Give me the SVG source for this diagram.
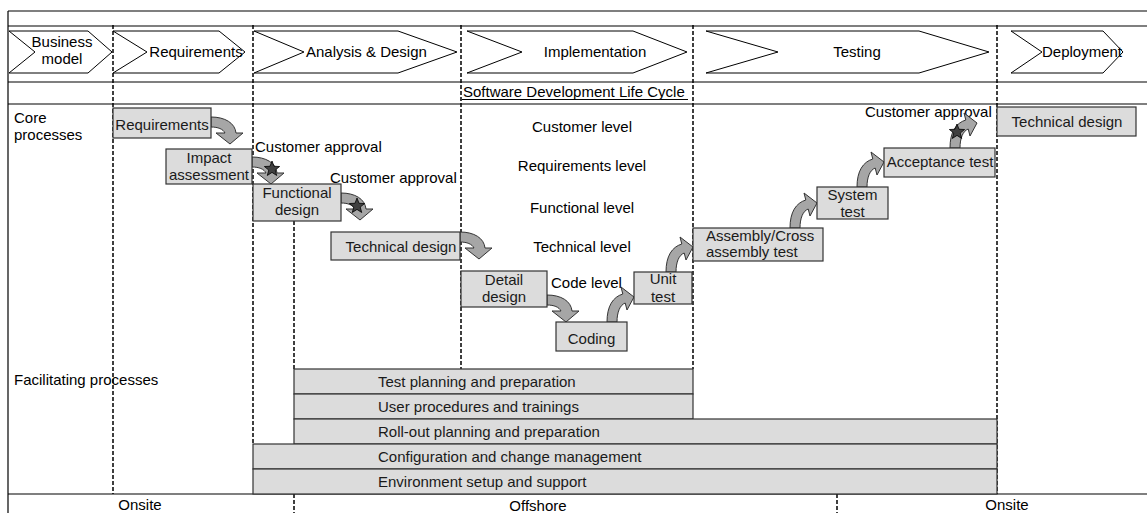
<svg xmlns="http://www.w3.org/2000/svg" xmlns:xlink="http://www.w3.org/1999/xlink" width="1147" height="513" viewBox="0 0 1147 513">
<style>
text{font-family:"Liberation Sans",Arial,sans-serif;font-size:15px;fill:#000}
.c{text-anchor:middle}
.bt{fill:#1a1a1a}
.frame{stroke:#000;stroke-width:1.2;fill:none}
.dash{stroke:#000;stroke-width:1.5;stroke-dasharray:4 2;fill:none}
.phase{fill:#fff;stroke:#000;stroke-width:1}
.box{fill:#dcdcdc;stroke:#333;stroke-width:1.2}
.arr{fill:#a6a6a6;stroke:#333;stroke-width:1}
.star{fill:#404040;stroke:#000;stroke-width:0.8}
</style>
<defs>
<path id="arrDown" d="M0,0 C14,0 24,6 25,16 L32,16 L19,27 L5,16 L14,16 C12,12 7,10 0,10 Z"/>
<path id="arrUp" d="M0,0 C0,-16 6,-25 15.8,-28 L14,-35 L27,-25 L20,-12 L18.2,-19 C13,-17 10,-10 10,0 Z"/>
<path id="star" d="M0,-8 L2,-2.75 L7.61,-2.47 L3.23,1.05 L4.7,6.47 L0,3.4 L-4.7,6.47 L-3.23,1.05 L-7.61,-2.47 L-2,-2.75 Z"/>
</defs>
<rect width="1147" height="513" fill="#fff"/>
<g id="frame">
<line class="frame" x1="8" y1="11" x2="1147" y2="11"/>
<line class="frame" x1="8" y1="26" x2="1147" y2="26"/>
<line class="frame" x1="8" y1="82" x2="1147" y2="82"/>
<line class="frame" x1="8" y1="104" x2="1147" y2="104"/>
<line class="frame" x1="8" y1="494" x2="1147" y2="494"/>
<line class="frame" x1="8" y1="11" x2="8" y2="513"/>
</g>
<g id="phases">
<g id="ph-business"><polygon class="phase" points="9,31 88,31 112,52 88,73 9,73 35,52"/><text class="c" x="62" y="47">Business</text><text class="c" x="62" y="64">model</text></g>
<g id="ph-requirements"><polygon class="phase" points="113,31 219,31 245,52 219,73 113,73 147,52"/><text class="c" x="196" y="57">Requirements</text></g>
<g id="ph-analysis"><polygon class="phase" points="254,31 398,31 457,52 398,73 254,73 304,52"/><text x="306" y="57">Analysis &amp; Design</text></g>
<g id="ph-implementation"><polygon class="phase" points="467,31 633,31 687,52 633,73 467,73 522,52"/><text class="c" x="595" y="57">Implementation</text></g>
<g id="ph-testing"><polygon class="phase" points="706,31 919,31 989,52 919,73 706,73 778,52"/><text class="c" x="857" y="57">Testing</text></g>
<g id="ph-deployment"><polygon class="phase" points="1011,31 1103,31 1123,52 1103,73 1011,73 1042,52"/><text class="c" x="1082" y="57">Deployment</text></g>
</g>
<g id="sdlc">
<text x="463" y="97">Software Development Life Cycle</text>
<line x1="462" y1="99.5" x2="688" y2="99.5" stroke="#000" stroke-width="1.2"/>
</g>
<g id="dividers">
<line class="dash" x1="113" y1="25" x2="113" y2="494"/>
<line class="dash" x1="253" y1="25" x2="253" y2="444"/>
<line class="dash" x1="461" y1="25" x2="461" y2="369"/>
<line class="dash" x1="693" y1="25" x2="693" y2="369"/>
<line class="dash" x1="997" y1="25" x2="997" y2="494"/>
<line class="dash" x1="294" y1="221" x2="294" y2="369"/>
<line class="dash" x1="294" y1="494" x2="294" y2="513"/>
<line class="dash" x1="837" y1="494" x2="837" y2="513"/>
</g>
<g id="labels">
<text x="14" y="123">Core</text>
<text x="14" y="139.5">processes</text>
<text x="14" y="385">Facilitating processes</text>
<text class="c" x="582" y="132">Customer level</text>
<text class="c" x="582" y="171">Requirements level</text>
<text class="c" x="582" y="213">Functional level</text>
<text class="c" x="582" y="252">Technical level</text>
<text x="551" y="288">Code level</text>
<text x="255" y="152">Customer approval</text>
<text x="330" y="183">Customer approval</text>
<text x="865" y="117">Customer approval</text>
<text class="c" x="140" y="510">Onsite</text>
<text class="c" x="538" y="511">Offshore</text>
<text class="c" x="1007" y="510">Onsite</text>
</g>
<g id="connectors">
<use xlink:href="#arrDown" class="arr" transform="translate(211,117)"/>
<use xlink:href="#arrDown" class="arr" transform="translate(252,157)"/>
<use xlink:href="#arrDown" class="arr" transform="translate(341,193)"/>
<use xlink:href="#arrDown" class="arr" transform="translate(460,232)"/>
<use xlink:href="#arrDown" class="arr" transform="translate(547,295)"/>
<use xlink:href="#arrUp" class="arr" transform="translate(607,322)"/>
<use xlink:href="#arrUp" class="arr" transform="translate(666,272)"/>
<use xlink:href="#arrUp" class="arr" transform="translate(790,228)"/>
<use xlink:href="#arrUp" class="arr" transform="translate(857,187)"/>
<use xlink:href="#arrUp" class="arr" transform="translate(950,148)"/>
<use xlink:href="#star" class="star" transform="translate(272,169)"/>
<use xlink:href="#star" class="star" transform="translate(357,206)"/>
<use xlink:href="#star" class="star" transform="translate(957,132)"/>
</g>
<g id="n-requirements"><rect class="box" x="113" y="108" width="98" height="30"/><text class="c bt" x="162" y="130">Requirements</text></g>
<g id="n-impact"><rect class="box" x="166" y="149" width="86" height="35"/><text class="c bt" x="209" y="163">Impact</text><text class="c bt" x="209" y="180">assessment</text></g>
<g id="n-functional"><rect class="box" x="253" y="184" width="88" height="37"/><text class="c bt" x="297" y="198">Functional</text><text class="c bt" x="297" y="215">design</text></g>
<g id="n-technical1"><rect class="box" x="331" y="232" width="129" height="28"/><text class="c bt" x="401" y="252">Technical design</text></g>
<g id="n-detail"><rect class="box" x="461" y="271" width="86" height="36"/><text class="c bt" x="504" y="285">Detail</text><text class="c bt" x="504" y="302">design</text></g>
<g id="n-coding"><rect class="box" x="556" y="322" width="71" height="29"/><text class="c bt" x="591.5" y="344">Coding</text></g>
<g id="n-unit"><rect class="box" x="634" y="272" width="58" height="32"/><text class="c bt" x="663" y="284">Unit</text><text class="c bt" x="663" y="302">test</text></g>
<g id="n-assembly"><rect class="box" x="693" y="228" width="130" height="33"/><text class="bt" x="706" y="241">Assembly/Cross</text><text class="bt" x="706" y="257">assembly test</text></g>
<g id="n-system"><rect class="box" x="817" y="187" width="71" height="32"/><text class="c bt" x="852.5" y="200">System</text><text class="c bt" x="852.5" y="217">test</text></g>
<g id="n-acceptance"><rect class="box" x="884" y="148" width="111" height="29"/><text class="c bt" x="940" y="167">Acceptance test</text></g>
<g id="n-technical2"><rect class="box" x="997" y="107" width="139" height="29"/><text class="c bt" x="1067" y="127">Technical design</text></g>
<g id="n-testplan"><rect class="box" x="294" y="369" width="399" height="25"/><text class="bt" x="378" y="387">Test planning and preparation</text></g>
<g id="n-userproc"><rect class="box" x="294" y="394" width="399" height="25"/><text class="bt" x="378" y="412">User procedures and trainings</text></g>
<g id="n-rollout"><rect class="box" x="294" y="419" width="703" height="25"/><text class="bt" x="378" y="437">Roll-out planning and preparation</text></g>
<g id="n-config"><rect class="box" x="253" y="444" width="744" height="25"/><text class="bt" x="378" y="462">Configuration and change management</text></g>
<g id="n-env"><rect class="box" x="253" y="469" width="744" height="25"/><text class="bt" x="378" y="487">Environment setup and support</text></g>
</svg>
